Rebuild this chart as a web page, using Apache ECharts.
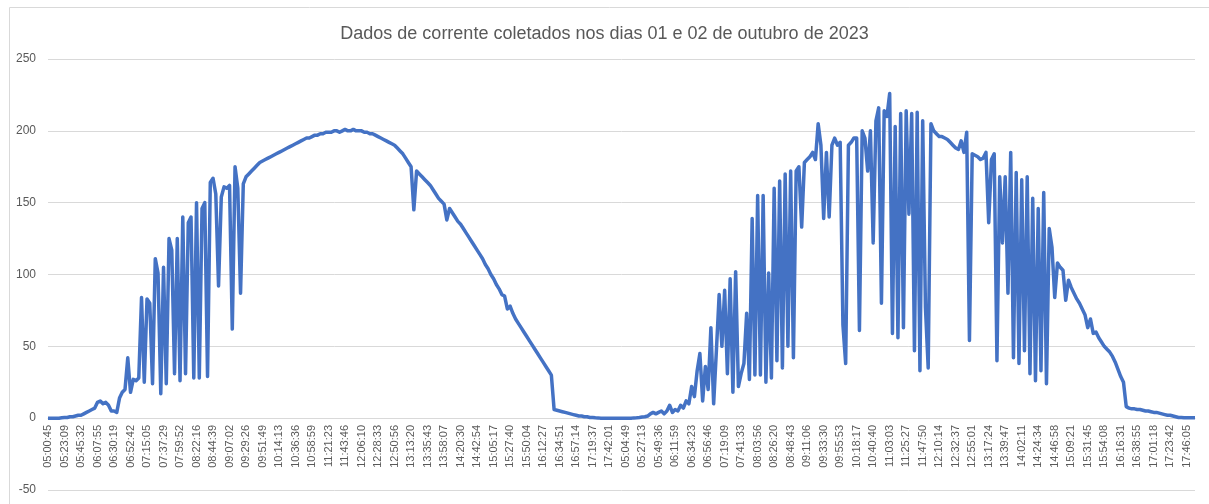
<!DOCTYPE html>
<html>
<head>
<meta charset="utf-8">
<script src="https://cdn.jsdelivr.net/npm/echarts@6/dist/echarts.min.js"></script>
<style>
  html, body { margin: 0; padding: 0; background: #fff; }
  #my_chart { width: 1209px; height: 504px; }
</style>
</head>
<body>
<div id="my_chart"></div>
<script>
  // tick labels, one every 6 samples
  var day1Times = ['05:00:45','05:23:09','05:45:32','06:07:55','06:30:19','06:52:42','07:15:05','07:37:29','07:59:52','08:22:16',
    '08:44:39','09:07:02','09:29:26','09:51:49','10:14:13','10:36:36','10:58:59','11:21:23','11:43:46','12:06:10',
    '12:28:33','12:50:56','13:13:20','13:35:43','13:58:07','14:20:30','14:42:54','15:05:17','15:27:40','15:50:04',
    '16:12:27','16:34:51','16:57:14','17:19:37','17:42:01'];
  var day2Times = ['05:04:49','05:27:13','05:49:36','06:11:59','06:34:23','06:56:46','07:19:09','07:41:33','08:03:56','08:26:20',
    '08:48:43','09:11:06','09:33:30','09:55:53','10:18:17','10:40:40','11:03:03','11:25:27','11:47:50','12:10:14',
    '12:32:37','12:55:01','13:17:24','13:39:47','14:02:11','14:24:34','14:46:58','15:09:21','15:31:45','15:54:08',
    '16:16:31','16:38:55','17:01:18','17:23:42','17:46:05'];

  // corrente, dia 01 (6 amostras por rotulo)
  var day1Current = [
    0, 0, 0, 0, 0, 0.3,
    0.5, 0.5, 1, 1, 1.5, 2,
    2, 3, 4, 5, 6, 7,
    11, 12, 10, 11, 9, 5,
    5, 4, 14, 18, 20, 42,
    18, 27, 26, 28, 84, 25,
    83, 80, 24, 111, 101, 17,
    105, 24, 125, 117, 31, 125,
    26, 140, 31, 136, 140, 28,
    150, 28, 146, 150, 29, 164,
    167, 156, 92, 154, 161, 160,
    162, 62, 175, 160, 87, 163,
    168, 170, 172, 174, 176, 178,
    179, 180, 181, 182, 183, 184,
    185, 186, 187, 188, 189, 190,
    191, 192, 193, 194, 195, 195,
    196, 197, 197, 198, 198, 199,
    199, 199, 200, 200, 199, 200,
    201, 200, 200, 201, 200, 200,
    200, 199, 199, 198, 198, 197,
    196, 195, 194, 193, 192, 191,
    190, 188, 186, 184, 181, 178,
    175, 145, 172, 170, 168, 166,
    164, 162, 159, 156, 153, 151,
    149, 138, 146, 143, 140, 137,
    135, 132, 129, 126, 123, 120,
    117, 114, 111, 107, 104, 100,
    97, 93, 90, 86, 85, 76,
    78, 73, 69, 66, 63, 60,
    57, 54, 51, 48, 45, 42,
    39, 36, 33, 30, 6, 5.5,
    5, 4.5, 4, 3.5, 3, 2.5,
    2, 1.5, 1.5, 1, 1, 0.5,
    0.5, 0.3, 0.2, 0, 0, 0,
    0, 0, 0, 0, 0, 0
  ];

  // corrente, dia 02
  var day2Current = [
    0, 0, 0, 0.2, 0.3, 0.5,
    0.8, 1, 1.5, 3, 4, 3,
    4, 5, 3, 5, 9, 4,
    6, 5, 9, 7, 12, 10,
    22, 15, 33, 45, 12, 36,
    20, 63, 10, 47, 86, 50,
    89, 31, 97, 18, 102, 22,
    31, 38, 73, 27, 139, 30,
    155, 30, 155, 25, 101, 28,
    160, 40, 165, 35, 170, 50,
    172, 42, 172, 175, 133, 178,
    180, 182, 185, 180, 205, 190,
    139, 185, 140, 190, 195, 190,
    192, 65, 38, 190, 192, 195,
    195, 61, 200, 195, 172, 200,
    122, 207, 216, 80, 214, 210,
    226, 59, 203, 56, 212, 63,
    214, 142, 212, 47, 213, 33,
    207, 77, 35, 205, 200, 198,
    196, 196, 195, 194, 192, 190,
    188, 187, 193, 185, 199, 54,
    184, 183, 182, 180, 181, 185,
    136, 180, 184, 40, 168, 122,
    168, 87, 185, 42, 171, 38,
    166, 47, 168, 31, 153, 26,
    146, 33, 157, 24, 132, 119,
    84, 108, 105, 103, 82, 96,
    91, 87, 83, 80, 76, 72,
    63, 69, 59, 60, 56, 53,
    50, 48, 46, 43, 39, 34,
    29, 25, 8, 7, 6.5, 6.5,
    6, 6, 5.5, 5, 5, 4.5,
    4, 4, 3.5, 3, 2.5, 2,
    2, 1.5, 1, 0.5, 0.5, 0.3,
    0.3, 0.3, 0.3, 0.3
  ];

  var step = 6;
  var tickLabels = day1Times.concat(day2Times);
  var current = day1Current.concat(day2Current);
  var cats = current.map(function (v, i) { return String(i); });

  var my_chart = echarts.init(document.getElementById('my_chart'));
  my_chart.setOption({
    animation: false,
    title: {
      text: 'Dados de corrente coletados nos dias 01 e 02 de outubro de 2023',
      left: 'center', top: 20,
      textStyle: { color: '#595959', fontSize: 18, fontWeight: 'normal', fontFamily: 'Liberation Sans' }
    },
    graphic: [{
      type: 'rect', left: 7, top: 5,
      shape: { width: 1210, height: 510 },
      style: { fill: 'none', stroke: '#d9d9d9', lineWidth: 1 }
    }],
    grid: { left: 48, right: 14, top: 59, bottom: 14, outerBoundsMode: 'none' },
    xAxis: {
      type: 'category',
      data: cats,
      boundaryGap: false,
      position: 'bottom',
      // axis sits on the zero line: 50 units above the bottom (-50)
      offset: -72,
      axisLine: { onZero: false, lineStyle: { color: '#d9d9d9', width: 1 } },
      axisTick: { show: false },
      axisLabel: {
        interval: step - 1,
        rotate: 90,
        margin: 7,
        color: '#595959',
        fontSize: 11,
        fontFamily: 'Liberation Sans',
        formatter: function (v, idx) {
          return idx % step === 0 ? (tickLabels[idx / step] || '') : '';
        }
      },
      splitLine: { show: false }
    },
    yAxis: {
      type: 'value',
      min: -50, max: 250, interval: 50,
      axisLine: { show: false },
      axisTick: { show: false },
      axisLabel: { color: '#595959', fontSize: 12, margin: 12, fontFamily: 'Liberation Sans' },
      splitLine: { lineStyle: { color: '#d9d9d9', width: 1 } }
    },
    series: [{
      name: 'Corrente',
      type: 'line',
      data: current,
      showSymbol: false,
      symbol: 'none',
      lineStyle: { color: '#4472C4', width: 3.5, join: 'round' },
      itemStyle: { color: '#4472C4' }
    }]
  });
</script>
</body>
</html>
